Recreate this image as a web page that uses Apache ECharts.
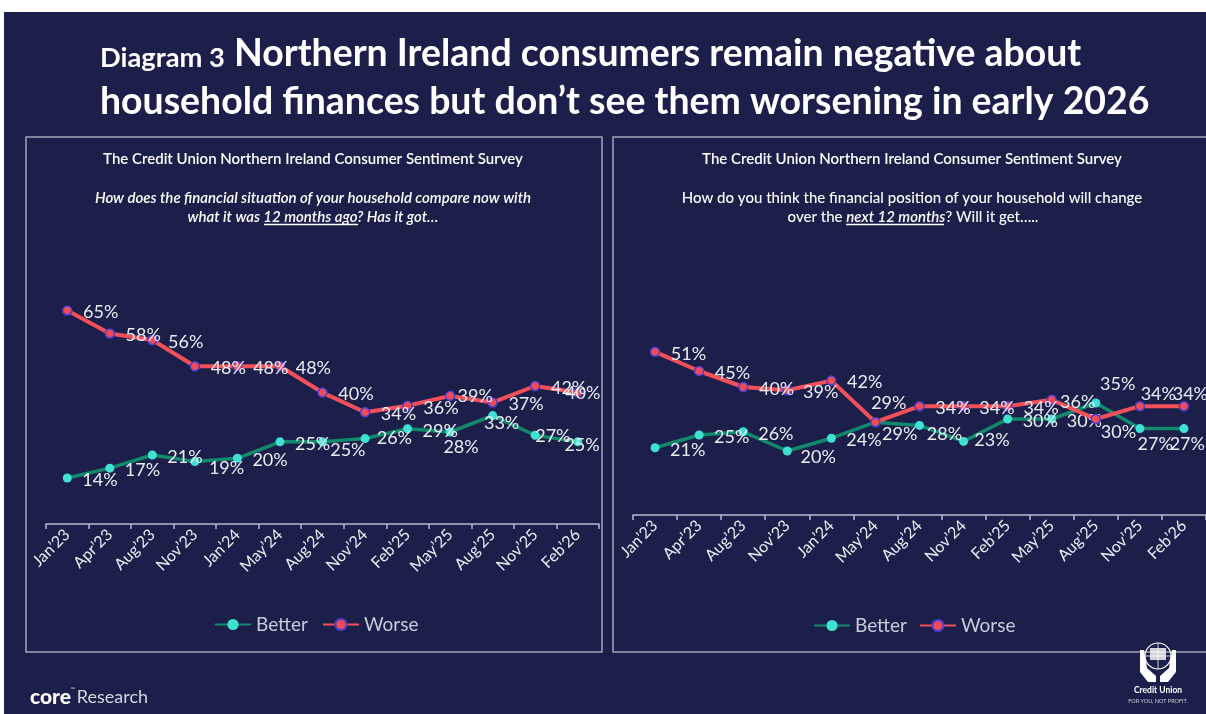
<!DOCTYPE html>
<html><head><meta charset="utf-8">
<script src="https://cdn.jsdelivr.net/npm/echarts@6/dist/echarts.min.js"></script>
<style>html,body{margin:0;padding:0;background:#ffffff;}#c{width:1206px;height:714px;}</style>
</head><body><div id="c"></div>
<script>
// ---------- data ----------
const categories = ["Jan’23","Apr’23","Aug’23","Nov’23","Jan’24","May’24","Aug’24","Nov’24","Feb’25","May’25","Aug’25","Nov’25","Feb’26"];
const pastBetter = [14,17,21,19,20,25,25,26,29,28,33,27,25];
const pastWorse  = [65,58,56,48,48,48,40,34,36,39,37,42,40];
const nextBetter = [21,25,26,20,24,29,28,23,30,30,35,27,27];
const nextWorse  = [51,45,40,39,42,29,34,34,34,36,30,34,34];
const seriesNames = ["Better","Worse"];

// ---------- label placement tweaks (layout only: [left of text rel. to dot, centre y rel. to dot]) ----------
const tweakPastBetter = {3:[14,6.6], 6:[7.7,8], 7:[11.7,-0.7], 9:[-6.7,14.7], 10:[-8.7,7.7], 11:[0,1], 12:[-13.3,3.3]};
const tweakPastWorse  = {9:[6.7,0], 12:[-13.3,1]};
const tweakNextBetter = {3:[13.3,6], 5:[6.7,12.3], 6:[7.3,8.3], 7:[10.7,-1.3], 10:[4.3,-19], 11:[-2.3,15.3], 12:[-14.3,15.3]};
const tweakNextWorse  = {5:[-5,-18.7], 9:[7.6,2], 10:[4.3,13], 11:[0,-11.7], 12:[-12,-11.7]};

// ---------- styles ----------
const BG = '#1b1f49';
const BETTER_LINE = '#12896d', BETTER_DOT = '#3fe2d2';
const WORSE_LINE = '#f5505a', WORSE_DOT = '#f04c58', WORSE_RING = '#4a3fd0';
const AXIS = '#b6b9cc', TXT = '#ececf3';
const FONT = 'Lato, "Open Sans", sans-serif';
const BASE_DX = 15, BASE_DY = 2;

function fitSize(text, weight, target){
  const c = document.createElement('canvas').getContext('2d');
  c.font = weight + ' 100px Lato';
  return 100 * target / c.measureText(text).width;
}
const t1a = 'Diagram 3';
const t1b = 'Northern Ireland consumers remain negative about';
const t2 = 'household finances but don’t see them worsening in early 2026';
const bigSize = fitSize(t2, 'bold', 1050);
const smallSize = fitSize(t1a, 'bold', 125);
const topOf = (baseline, size) => baseline - 0.92*size + 5;

const chart = echarts.init(document.getElementById('c'), null, {renderer:'canvas'});

function xAxisDef(gi){
  return {
    type:'category', gridIndex:gi, data:categories, boundaryGap:true,
    axisLine:{show:true, lineStyle:{color:AXIS, width:1.5}},
    axisTick:{show:true, length:5, lineStyle:{color:AXIS, width:1.5}},
    axisLabel:{rotate:45, interval:0, color:TXT, fontSize:16, fontFamily:FONT, margin:8},
    splitLine:{show:false}
  };
}
function lineSeries(name, values, gi, isWorse, tweaks){
  const data = values.map((v,i) => tweaks[i]
    ? {value:v, label:{offset:[tweaks[i][0]-BASE_DX, tweaks[i][1]]}}
    : v);
  return {
    name, type:'line', data, xAxisIndex:gi, yAxisIndex:gi,
    symbol:'circle', symbolSize: 9, showSymbol:true,
    lineStyle:{color: isWorse?WORSE_LINE:BETTER_LINE, width: isWorse?4:3.5},
    itemStyle:{color: isWorse?WORSE_DOT:BETTER_DOT, borderColor: isWorse?WORSE_RING:BETTER_DOT, borderWidth: isWorse?1.5:0},
    label:{show:true, position:'right', distance:BASE_DX-4.5, offset:[0,BASE_DY], color:TXT, fontSize:18, fontFamily:FONT,
      formatter: p => p.value + '%'},
    emphasis:{disabled:true},
    z: isWorse?3:2
  };
}

const graphics = [
  {type:'rect', shape:{x:4, y:12, width:1202, height:702}, style:{fill:BG}, z:-10},
  {type:'rect', shape:{x:26, y:137, width:576, height:515}, style:{fill:'none', stroke:'#a3a6b8', lineWidth:1.5}, z:-5},
  {type:'rect', shape:{x:613, y:137, width:610, height:515}, style:{fill:'none', stroke:'#a3a6b8', lineWidth:1.5}, z:-5},
  {type:'text', x:100, y:topOf(65, smallSize), style:{text:t1a, fontFamily:FONT, fontWeight:'bold', fontSize:smallSize, fill:'#ffffff'}},
  {type:'text', x:234, y:topOf(65, bigSize), style:{text:t1b, fontFamily:FONT, fontWeight:'bold', fontSize:bigSize, fill:'#ffffff'}},
  {type:'text', x:100, y:topOf(113, bigSize), style:{text:t2, fontFamily:FONT, fontWeight:'bold', fontSize:bigSize, fill:'#ffffff'}},
  // panel texts
  {type:'text', x:313, y:159, style:{text:'The Credit Union Northern Ireland Consumer Sentiment Survey', align:'center', verticalAlign:'middle', fontFamily:FONT, fontWeight:600, fontSize:15, fill:'#ffffff'}},
  {type:'text', x:313, y:198, style:{text:'How does the financial situation of your household compare now with', align:'center', verticalAlign:'middle', fontFamily:FONT, fontWeight:600, fontStyle:'italic', fontSize:15, fill:'#ffffff'}},
  {type:'text', x:313, y:217, style:{text:'what it was 12 months ago? Has it got…', align:'center', verticalAlign:'middle', fontFamily:FONT, fontWeight:600, fontStyle:'italic', fontSize:15, fill:'#ffffff'}},
  {type:'line', shape:{x1:264, y1:224.5, x2:358, y2:224.5}, style:{stroke:'#ffffff', lineWidth:1.3}},
  {type:'text', x:912, y:159, style:{text:'The Credit Union Northern Ireland Consumer Sentiment Survey', align:'center', verticalAlign:'middle', fontFamily:FONT, fontWeight:600, fontSize:15, fill:'#ffffff'}},
  {type:'text', x:912, y:198, style:{text:'How do you think the financial position of your household will change', align:'center', verticalAlign:'middle', fontFamily:FONT, fontWeight:500, fontSize:15, fill:'#ffffff'}},
  {type:'text', x:913, y:217, style:{text:'over the {i|next 12 months}? Will it get…..', align:'center', verticalAlign:'middle', fontFamily:FONT, fontWeight:500, fontSize:15, fill:'#ffffff',
      rich:{i:{fontFamily:FONT, fontStyle:'italic', fontWeight:600, fontSize:15, fill:'#ffffff'}}}},
  {type:'line', shape:{x1:846, y1:224.5, x2:944, y2:224.5}, style:{stroke:'#ffffff', lineWidth:1.3}},
  // footer
  {type:'text', x:30, y:697, style:{text:'{c|core}{t|™}{r|Research}', verticalAlign:'middle', rich:{
      c:{fontFamily:FONT, fontWeight:900, fontSize:21, fill:'#ffffff'},
      t:{fontFamily:FONT, fontSize:5, fill:'#ffffff', verticalAlign:'top', padding:[0,2,10,0]},
      r:{fontFamily:FONT, fontSize:18, fill:'#d6d7e2'}}}},
  // credit union logo (simple drawing)
  {type:'circle', shape:{cx:1158, cy:656, r:13}, style:{fill:'none', stroke:'#ffffff', lineWidth:1.2}},
  {type:'line', shape:{x1:1145, y1:656, x2:1171, y2:656}, style:{stroke:'#ffffff', lineWidth:0.8}},
  {type:'line', shape:{x1:1158, y1:643, x2:1158, y2:669}, style:{stroke:'#ffffff', lineWidth:0.8}},
  {type:'rect', shape:{x:1150, y:648, width:16, height:12}, style:{fill:'#ffffff', opacity:0.8}},
  {type:'polygon', shape:{points:[[1140,650],[1144,650],[1147,668],[1156,676],[1156,682],[1148,682],[1140,672]]}, style:{fill:'#ffffff'}},
  {type:'polygon', shape:{points:[[1176,650],[1172,650],[1169,668],[1160,676],[1160,682],[1168,682],[1176,672]]}, style:{fill:'#ffffff'}},
  {type:'text', x:1158, y:690, style:{text:'Credit Union', align:'center', verticalAlign:'middle', fontFamily:FONT, fontWeight:'bold', fontSize:8.5, fill:'#ffffff'}},
  {type:'text', x:1158, y:701, style:{text:'FOR YOU, NOT PROFIT.', align:'center', verticalAlign:'middle', fontFamily:FONT, fontSize:5.5, fill:'#d0d2de'}}
];

const option = {
  animation:false,
  backgroundColor:'transparent',
  grid:[
    {left:46, top:294, width:553, height:230, containLabel:false},
    {left:633, top:323, width:580, height:192, containLabel:false}
  ],
  xAxis:[xAxisDef(0), xAxisDef(1)],
  yAxis:[
    {type:'value', gridIndex:0, min:0, max:70, show:false},
    {type:'value', gridIndex:1, min:0, max:60, show:false}
  ],
  legend:[
    {data:seriesNames, left:209, top:610, itemWidth:36, itemHeight:14, itemGap:14,
     textStyle:{color:'#c9cbd9', fontSize:19, fontFamily:FONT}},
    {data:seriesNames, left:808, top:611, itemWidth:36, itemHeight:14, itemGap:12,
     textStyle:{color:'#c9cbd9', fontSize:19, fontFamily:FONT}}
  ],
  series:[
    lineSeries(seriesNames[0], pastBetter, 0, false, tweakPastBetter),
    lineSeries(seriesNames[1], pastWorse, 0, true, tweakPastWorse),
    lineSeries(seriesNames[0], nextBetter, 1, false, tweakNextBetter),
    lineSeries(seriesNames[1], nextWorse, 1, true, tweakNextWorse)
  ],
  graphic:{elements:graphics}
};
chart.setOption(option);
</script></body></html>
